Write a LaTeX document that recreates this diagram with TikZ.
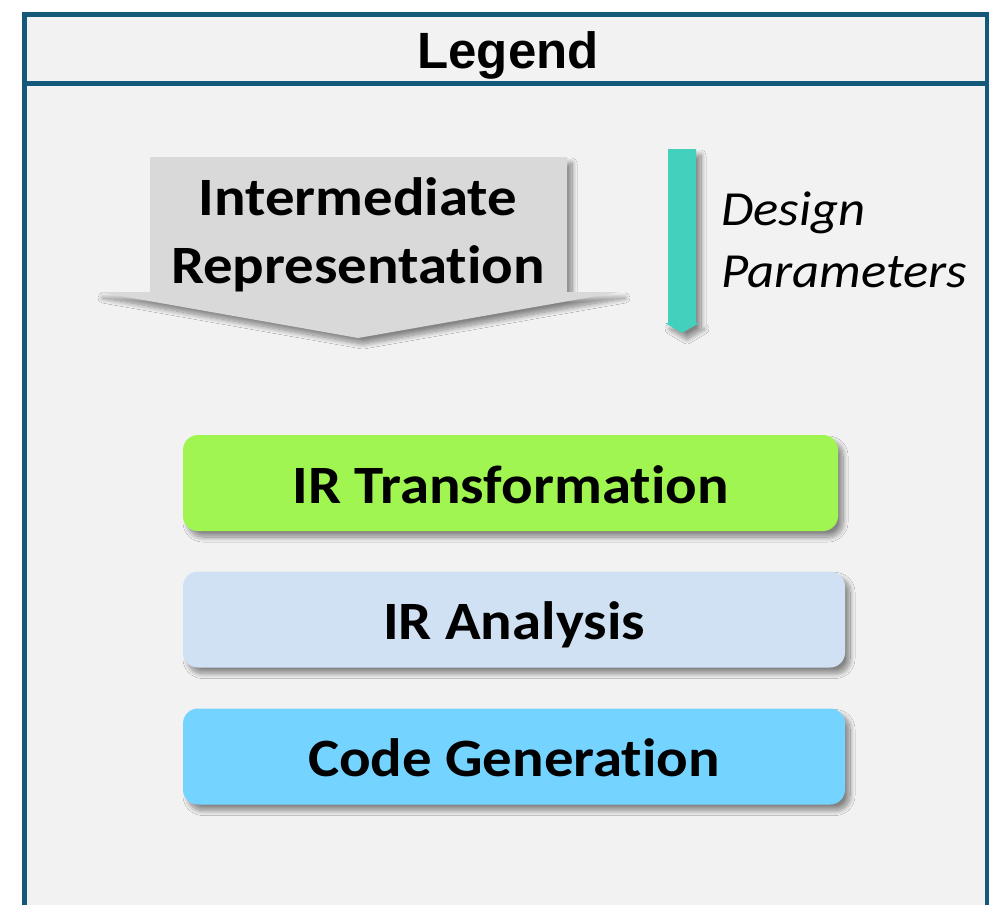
\documentclass[tikz,border=0pt]{standalone}
\usepackage{fontspec}
\setmainfont[Ligatures=NoCommon]{Carlito}
\newfontfamily\legendfont{Liberation Sans}
\usetikzlibrary{shadows.blur}

\definecolor{frameblue}{RGB}{20,88,122}
\definecolor{panel}{RGB}{242,242,242}
\definecolor{irgray}{RGB}{217,217,217}
\definecolor{paramteal}{RGB}{67,209,190}
\definecolor{transgreen}{RGB}{160,245,80}
\definecolor{analysisblue}{RGB}{207,225,243}
\definecolor{codeblue}{RGB}{117,212,255}

% slightly widened lettering
\newcommand{\widetext}[1]{\scalebox{1.09}[1]{#1}}

\tikzset{
  frameline/.style={draw=frameblue, line width=5.5pt, fill=panel},
  softshadow/.style={blur shadow={shadow xshift=5pt, shadow yshift=-6pt,
      shadow blur radius=5pt, shadow blur steps=14, shadow opacity=45}},
  stagebox/.style={rounded corners=15pt, draw=none, softshadow,
      minimum height=96pt, text height=40pt, text depth=0pt, inner sep=0pt,
      font=\bfseries\fontsize{54}{60}\selectfont},
  bigtext/.style={font=\bfseries\fontsize{54}{60}\selectfont, inner sep=0pt, anchor=base},
  paramtext/.style={font=\itshape\fontsize{49}{55}\selectfont, inner sep=0pt, anchor=base west},
}

\begin{document}
\begin{tikzpicture}[x=1pt,y=-1pt]
\useasboundingbox (0,0) rectangle (989,905);
\clip (0,0) rectangle (989,905);

% legend frame: title strip and body panel
\draw[frameline] (24.5,83.5) rectangle (987.5,960);
\draw[frameline] (24.5,14.5) rectangle (987.5,83.5);
\node[font=\legendfont\bfseries\fontsize{51}{56}\selectfont, inner sep=0pt, anchor=base]
  (title) at (508,68) {Legend};

% block arrow for the intermediate representation
\fill[irgray, softshadow]
  (150,157) -- (567,157) -- (567,292) -- (620,292) -- (358,338)
  -- (98,292) -- (150,292) -- cycle;
\node[bigtext] (irtop) at (358,215) {\widetext{Intermediate}};
\node[bigtext] (irbot) at (358,283) {\widetext{Representation}};

% thin arrow for design parameters
\fill[paramteal, softshadow]
  (668,149) -- (696,149) -- (696,323) -- (699,323) -- (682,333)
  -- (665,323) -- (668,323) -- cycle;
\node[paramtext] (design) at (721,225) {\scalebox{1.075}[1]{Design}};
\node[paramtext] (params) at (721,287) {\scalebox{1.075}[1]{Parameters}};

% stage boxes
\node[stagebox, fill=transgreen, minimum width=655pt] (trans) at (510.5,483) {\widetext{IR Transformation}};
\node[stagebox, fill=analysisblue, minimum width=662pt] (analysis) at (514,619.5) {\widetext{IR Analysis}};
\node[stagebox, fill=codeblue, minimum width=662pt] (codegen) at (514,756.5) {\widetext{Code Generation}};
\end{tikzpicture}
\end{document}
